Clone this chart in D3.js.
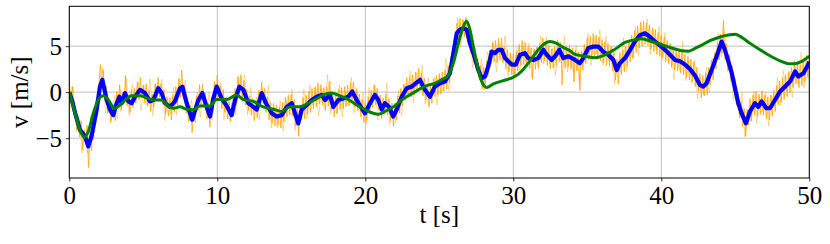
<!DOCTYPE html>
<html><head><meta charset="utf-8">
<script src="https://cdn.jsdelivr.net/npm/d3@7"></script>
<style>body{margin:0;background:#fff}</style>
</head><body><svg id="c" width="830" height="244"></svg>
<script>
const xTicks = [0, 10, 20, 30, 40, 50];
const yTicks = [-5, 0, 5];
const xLabel = "t [s]";
const yLabel = "v [m/s]";

// raw measured signal, sampled every 0.1 s from t = 0 to 50
const orangeDt = 0.1;
const orangeV = [
 1.2,-1.2,0.6,-2.1,-1.8,-4.2,-3.2,-4.9,-3.1,-6.3,
 -4.1,-5.3,-3.6,-8.2,-4.6,-6.4,-3.2,-4.4,-0.9,-2.6,
 0.9,3.0,0.4,2.4,-0.9,0.7,-2.3,-0.8,-3.3,-1.5,
 -1.4,-3.1,0.1,-1.6,0.8,-2.0,-0.1,-1.3,1.8,-1.5,
 -0.4,-2.2,0.3,-1.7,0.4,-1.2,1.1,-0.8,1.6,-0.6,
 0.8,-1.2,0.9,-1.5,0.2,-2.1,-0.2,-1.6,0.9,-0.9,
 1.6,-0.5,0.9,-1.3,0.3,-2.4,-0.5,-2.6,-0.6,-3.0,
 -0.3,-2.2,0.6,-1.4,1.5,-0.6,2.4,-0.5,0.7,-2.3,
 -0.6,-3.1,-1.4,-4.4,-1.8,-3.3,-0.4,-2.0,0.8,-1.5,
 0.9,-1.4,-0.1,-2.9,-1.2,-3.8,-0.6,-2.1,1.2,-0.7,
 1.8,-0.6,0.7,-1.8,0.3,-2.2,-0.5,-2.9,-1.0,-3.2,
 -1.2,-2.6,0.4,-1.4,1.7,-0.3,1.9,-0.6,1.3,-1.4,
 0.3,-2.0,-0.4,-2.5,-0.7,-3.1,-0.9,-2.8,0.2,-1.6,
 1.1,-1.3,0.4,-2.2,-0.5,-3.0,-1.1,-3.4,-1.2,-3.7,
 -1.4,-3.6,-1.6,-3.9,-1.1,-3.2,-0.6,-2.7,-0.3,-2.5,
 -0.2,-2.6,-0.8,-3.7,-1.8,-4.8,-1.4,-3.0,-0.6,-2.9,
 -0.3,-2.4,0.1,-2.2,0.4,-1.8,0.5,-1.6,1.0,-1.3,
 0.8,-1.4,0.5,-2.0,0.6,-1.5,1.2,-1.9,-0.3,-2.7,
 -0.1,-2.3,0.3,-1.9,0.5,-1.8,0.6,-1.6,0.8,-1.5,
 1.0,-0.9,1.1,-1.6,0.4,-2.0,-0.2,-2.7,-0.8,-3.3,
 -1.2,-3.1,-0.5,-2.4,0.2,-1.7,0.8,-1.4,0.4,-1.9,
 -0.3,-2.9,-0.6,-2.4,-0.2,-2.5,-0.7,-3.1,-1.2,-3.7,
 -1.2,-3.0,-0.4,-2.3,0.4,-1.5,0.9,-0.9,1.6,-0.6,
 1.7,-0.5,1.9,-0.3,2.2,0.1,2.6,0.3,2.1,-0.4,
 1.5,-0.9,0.9,-1.6,0.6,-1.2,1.4,-0.5,1.8,-0.3,
 2.0,-0.2,2.2,0.1,2.4,0.3,2.9,1.0,3.9,2.8,
 5.8,4.4,7.5,5.6,8.0,6.1,7.9,6.0,8.1,5.4,
 6.9,4.2,5.9,3.3,4.8,2.4,3.7,1.3,2.9,0.3,
 2.7,0.4,3.4,1.8,4.6,3.1,5.4,3.3,5.6,3.2,
 5.8,3.5,5.9,3.2,4.9,2.5,4.6,2.2,4.3,1.9,
 4.2,1.8,4.4,2.3,5.2,2.9,5.6,3.0,5.4,2.8,
 4.9,2.6,4.8,1.4,4.7,2.5,4.9,2.6,5.3,3.2,
 5.9,3.4,5.5,2.9,5.1,2.5,4.7,2.6,5.0,2.9,
 5.7,3.3,5.4,0.8,4.9,2.6,5.0,2.7,5.1,2.5,
 4.8,1.1,4.6,2.3,4.4,0.2,4.5,2.4,5.2,3.1,
 5.9,3.5,6.1,3.7,6.4,3.8,6.2,3.6,6.0,3.4,
 5.7,3.2,5.5,2.9,5.3,2.8,5.0,2.3,4.4,1.3,
 3.6,0.9,4.3,1.9,4.6,2.2,5.0,2.8,5.6,3.3,
 6.2,3.7,6.7,4.3,7.2,4.8,7.6,5.0,7.7,5.2,
 7.5,5.1,7.3,4.7,7.0,4.4,6.8,4.1,6.5,3.9,
 6.2,3.7,6.0,3.3,5.6,3.1,5.3,2.7,4.9,2.4,
 4.6,2.3,4.7,2.1,4.4,1.9,4.1,1.6,3.9,1.3,
 3.6,1.1,3.3,0.6,2.7,0.1,2.0,-0.6,1.8,-0.4,
 2.1,-0.3,2.7,0.8,3.5,1.3,4.3,2.5,5.4,3.5,
 6.3,4.2,7.8,3.5,5.3,2.3,4.1,1.2,2.9,0.1,
 1.4,-1.5,0.0,-2.8,-1.0,-3.7,-1.8,-4.8,-1.9,-3.6,
 -0.7,-3.1,-0.3,-2.5,0.1,-2.7,-0.2,-2.4,0.2,-2.5,
 -0.3,-2.9,-0.5,-3.0,-0.3,-2.6,0.2,-2.1,0.7,-1.4,
 1.2,-1.1,1.6,-0.8,1.9,-0.5,2.2,-0.1,2.7,0.5,
 3.4,0.9,3.2,0.5,3.0,0.7,3.3,1.1,4.0,1.6,
 3.5
];

// fainter raw excursions, sampled every 0.2 s from t = 0.05
const paleStart = 0.05;
const paleDt = 0.2;
const paleV = [
 -1.75,0.6,-3.2,-2.5,-6.6,-4.15,-6.65,-2.65,-5.25,-0.9,
 -1.0,2.65,-2.25,-0.65,-3.05,-0.35,-2.9,0.3,-1.35,1.55,
 -2.55,0.85,-1.1,1.15,-2.0,0.65,-1.5,1.45,-2.55,0.7,
 -1.0,1.4,-3.1,-0.65,-2.4,0.55,-2.45,1.4,-0.3,1.3,
 -3.25,-0.85,-2.85,0.0,-2.7,0.35,-2.45,0.0,-3.1,1.0,
 -1.0,1.1,-3.05,-0.75,-3.05,-0.25,-2.5,1.5,-0.35,1.9,
 -2.5,0.5,-2.2,-0.5,-3.0,0.4,-2.05,0.7,-3.9,-1.6,
 -3.9,-0.9,-4.25,-0.9,-2.3,0.35,-4.2,-2.0,-2.9,0.3,
 -2.9,0.8,-1.4,0.65,-2.6,0.35,-1.7,1.9,-2.3,-0.5,
 -2.4,0.8,-2.7,0.2,-1.4,1.6,-2.25,0.2,-2.15,0.0,
 -3.6,0.5,-1.4,0.8,-3.0,-0.9,-2.45,1.0,-3.5,-1.55,
 -3.4,0.2,-2.55,0.8,-0.45,2.3,-1.15,2.1,0.6,2.85,
 -1.3,1.6,-0.8,1.65,-1.45,1.65,0.1,3.7,0.15,4.2,
 3.8,8.1,4.85,7.75,5.8,7.2,2.6,4.55,1.7,3.65,
 0.2,4.4,3.25,5.5,2.2,5.3,3.45,6.1,1.65,3.95,
 1.7,4.9,2.0,5.0,3.2,5.35,1.65,4.7,3.0,6.15,
 3.05,6.0,3.15,4.8,1.8,5.2,3.1,6.1,2.2,4.65,
 2.25,5.05,1.2,4.3,3.2,6.4,2.95,6.05,4.25,6.8,
 2.95,6.1,3.45,4.9,0.85,3.3,2.2,5.9,2.25,5.4,
 3.7,7.15,4.0,7.05,5.5,7.95,4.1,6.8,4.7,7.2,
 3.4,6.5,3.7,5.2,1.4,4.2,2.35,5.55,1.25,3.5,
 1.0,3.45,-0.75,1.55,-0.25,2.7,-0.1,3.7,2.75,6.4,
 3.8,6.7,3.15,3.85,-0.8,0.6,-2.45,0.05,-4.85,-1.85,
 -3.2,0.15,-3.4,-0.5,-2.1,0.05,-3.65,-0.4,-1.6,1.6,
 -1.4,2.35,0.1,2.3,-0.6,2.8,0.8,4.3,0.5,3.7
];

// smoothed signal (blue)
const blueT = [0,0.2,0.4,0.72,1.06,1.28,1.5,1.85,2.07,2.23,2.53,2.75,2.97,3.2,3.38,3.54,3.76,3.99,4.21,4.44,4.78,5.11,5.45,5.68,6.01,6.24,6.47,6.8,7.14,7.48,7.64,7.93,8.3,8.72,8.99,9.28,9.51,9.73,9.96,10.3,10.6,10.97,11.2,11.49,11.76,12.1,12.43,12.66,13.0,13.29,13.68,14.01,14.35,14.69,15.03,15.25,15.47,15.7,16.04,16.38,16.72,17.05,17.28,17.6,17.84,18.18,18.51,18.85,19.12,19.42,19.76,19.98,20.32,20.65,20.88,21.11,21.33,21.6,21.89,22.12,22.46,22.8,23.14,23.4,23.7,24.03,24.37,24.7,25.05,25.38,25.72,25.95,26.18,26.4,26.62,26.85,27.07,27.3,27.64,27.86,28.09,28.31,28.54,28.76,28.99,29.22,29.44,29.66,29.89,30.18,30.45,30.79,31.01,31.35,31.69,32.03,32.26,32.6,32.82,33.11,33.38,33.72,34.17,34.5,34.73,35.07,35.41,35.74,36.08,36.42,36.76,36.99,37.2,37.55,37.9,38.22,38.56,38.9,39.24,39.58,39.9,40.25,40.59,40.93,41.26,41.6,41.94,42.28,42.6,42.84,43.06,43.4,43.74,44.08,44.3,44.53,44.76,44.98,45.2,45.43,45.72,45.99,46.33,46.55,46.78,47.1,47.34,47.68,48.02,48.36,48.7,49.04,49.26,49.6,49.93,50];
const blueV = [0,-1.0,-2.3,-4.1,-4.8,-5.9,-4.8,-1.9,0.6,1.34,-0.84,-1.9,-2.5,-1.2,-0.5,-1.2,-0.1,-1.0,-1.2,-0.5,0.25,-0.1,-1.0,-0.85,0.43,-0.1,-1.2,-1.6,-1.0,0.43,0.6,-1.2,-3.0,-0.85,-0.1,-1.6,-2.65,-0.7,0.6,-0.7,-1.4,-2.5,-0.85,0.6,0.25,-1.2,-1.6,-1.9,-0.1,-1.2,-2.3,-2.65,-2.5,-1.6,-1.2,-2.3,-3.4,-1.9,-1.4,-0.85,-0.5,-0.3,-0.85,-0.3,-1.6,-0.85,-0.7,-0.5,0.07,-0.85,-1.75,-2.3,-1.2,-0.3,-0.85,-1.9,-1.2,-1.6,-2.65,-1.9,-0.5,0.43,0.6,0.96,1.34,0.25,-0.5,0.6,0.96,1.15,2.06,4.24,6.4,6.8,6.95,6.8,5.3,4.24,2.4,1.5,1.7,2.8,4.4,4.24,4.6,4.6,3.7,3.35,3.0,3.0,4.06,4.24,3.7,3.5,3.7,4.6,4.06,3.5,3.9,4.6,3.7,3.9,3.5,3.15,3.7,4.8,4.95,4.95,4.4,4.06,3.5,2.4,3.15,3.7,4.6,5.5,6.2,6.4,6.0,5.5,5.1,4.6,4.06,3.5,3.35,3.0,2.5,1.8,0.8,0.6,0.96,2.4,3.9,5.5,4.6,3.35,2.06,0.43,-1.2,-2.3,-3.4,-2.1,-1.2,-1.6,-1.0,-1.75,-1.75,-0.85,0.07,0.6,1.15,2.25,1.7,2.06,3.0,3.3];

// model output (green)
const greenT = [0,0.39,0.72,1.01,1.28,1.62,1.96,2.3,2.64,3.04,3.43,3.88,4.21,4.78,5.34,5.79,6.24,6.58,7.03,7.48,7.93,8.38,8.83,9.5,9.96,10.64,11.3,11.76,12.43,13.1,13.78,14.35,14.9,15.58,16.15,16.72,17.16,17.73,18.28,18.85,19.42,19.98,20.54,20.88,21.33,21.89,22.46,23.0,23.58,24.15,24.7,25.27,25.6,25.95,26.29,26.62,26.85,27.07,27.3,27.53,27.75,27.97,28.2,28.65,29.32,29.99,30.55,31.1,31.69,32.14,32.48,32.93,33.38,33.83,34.17,34.84,35.52,36.2,36.87,37.55,38.22,38.67,39.35,40.03,40.7,41.38,41.82,42.28,42.6,43.29,43.97,44.53,44.98,45.43,46.0,46.67,47.34,48.02,48.58,49.04,49.5,50];
const greenV = [0,-2.3,-4.1,-4.9,-4.3,-2.3,-0.85,-0.4,-0.85,-1.75,-1.4,-0.7,-0.4,-0.4,-0.7,-0.85,-0.85,-1.4,-1.75,-1.6,-1.85,-1.9,-1.5,-1.5,-0.8,-0.8,-0.3,-0.8,-1.0,-1.6,-1.85,-2.1,-1.6,-1.6,-1.2,-0.7,-0.3,-0.1,-0.4,-0.8,-1.4,-1.9,-2.3,-2.4,-2.1,-1.6,-0.85,-0.3,0.25,0.7,0.96,1.45,1.8,3.15,5.3,7.1,7.7,6.8,4.95,3.15,1.7,0.8,0.5,0.9,1.25,1.6,2.25,3.35,4.6,5.3,5.5,5.3,4.85,4.5,4.1,3.9,3.75,4.06,4.67,5.4,5.7,5.8,5.5,5.15,4.8,4.5,4.45,4.75,5.0,5.6,6.0,6.2,6.3,5.95,5.3,4.6,3.95,3.4,3.1,3.1,3.35,3.9];

const svg = d3.select("#c");
const L = 69.3, R = 809.3, T = 6.3, B = 178;
const x = d3.scaleLinear().domain([0, 50]).range([L, R]);
const y = d3.scaleLinear().domain([-9.33, 9.33]).range([B, T]);
const FONT = "Liberation Serif";
const FS = 25;

svg.append("defs").append("clipPath").attr("id", "clip")
  .append("rect").attr("x", L).attr("y", T).attr("width", R - L).attr("height", B - T);

// grid
const grid = svg.append("g").attr("stroke", "#b0b0b0").attr("stroke-width", 0.8);
grid.selectAll(".gx").data(xTicks).join("line")
  .attr("x1", d => x(d)).attr("x2", d => x(d)).attr("y1", T).attr("y2", B);
grid.selectAll(".gy").data(yTicks).join("line")
  .attr("x1", L).attr("x2", R).attr("y1", d => y(d)).attr("y2", d => y(d));

const plot = svg.append("g").attr("clip-path", "url(#clip)");

const paleData = paleV.map((v, i) => [paleStart + i * paleDt, v]);
const orangeData = orangeV.map((v, i) => [i * orangeDt, v]);
const blueData = blueT.map((t, i) => [t, blueV[i]]);
const greenData = greenT.map((t, i) => [t, greenV[i]]);

const lin = d3.line().x(d => x(d[0])).y(d => y(d[1]));
const smooth = d3.line().x(d => x(d[0])).y(d => y(d[1])).curve(d3.curveMonotoneX);

plot.append("path").datum(paleData).attr("d", lin)
  .attr("fill", "none").attr("stroke", "#ffa500").attr("stroke-width", 1).attr("stroke-opacity", 0.4);
plot.append("path").datum(orangeData).attr("d", lin)
  .attr("fill", "none").attr("stroke", "#ffa500").attr("stroke-width", 1).attr("stroke-opacity", 0.8);
plot.append("path").datum(blueData).attr("d", lin)
  .attr("fill", "none").attr("stroke", "#0000ff").attr("stroke-width", 4.2).attr("stroke-linejoin", "round");
plot.append("path").datum(greenData).attr("d", smooth)
  .attr("fill", "none").attr("stroke", "#008000").attr("stroke-width", 3).attr("stroke-linejoin", "round");

// axes
const xAxis = d3.axisBottom(x).tickValues(xTicks).tickSize(3.5).tickPadding(4.5).tickFormat(d3.format("d"));
const yAxis = d3.axisLeft(y).tickValues(yTicks).tickSize(3.5).tickPadding(3.8).tickFormat(d3.format("d"));
const gx = svg.append("g").attr("transform", `translate(0,${B})`).call(xAxis);
const gy = svg.append("g").attr("transform", `translate(${L},0)`).call(yAxis);
[gx, gy].forEach(g => {
  g.attr("font-family", FONT).attr("font-size", FS);
  g.select(".domain").remove();
  g.selectAll(".tick line").attr("stroke", "#000").attr("stroke-width", 0.8);
  g.selectAll(".tick text").attr("fill", "#000").attr("font-family", FONT).attr("font-size", FS);
});

// frame
svg.append("rect").attr("x", L).attr("y", T).attr("width", R - L).attr("height", B - T)
  .attr("fill", "none").attr("stroke", "#000").attr("stroke-width", 1);

svg.append("text").attr("x", (L + R) / 2).attr("y", 223).attr("text-anchor", "middle")
  .attr("font-family", FONT).attr("font-size", FS).text(xLabel);
svg.append("text").attr("transform", `translate(28,${(T + B) / 2}) rotate(-90)`).attr("text-anchor", "middle")
  .attr("font-family", FONT).attr("font-size", FS).text(yLabel);
</script></body></html>
